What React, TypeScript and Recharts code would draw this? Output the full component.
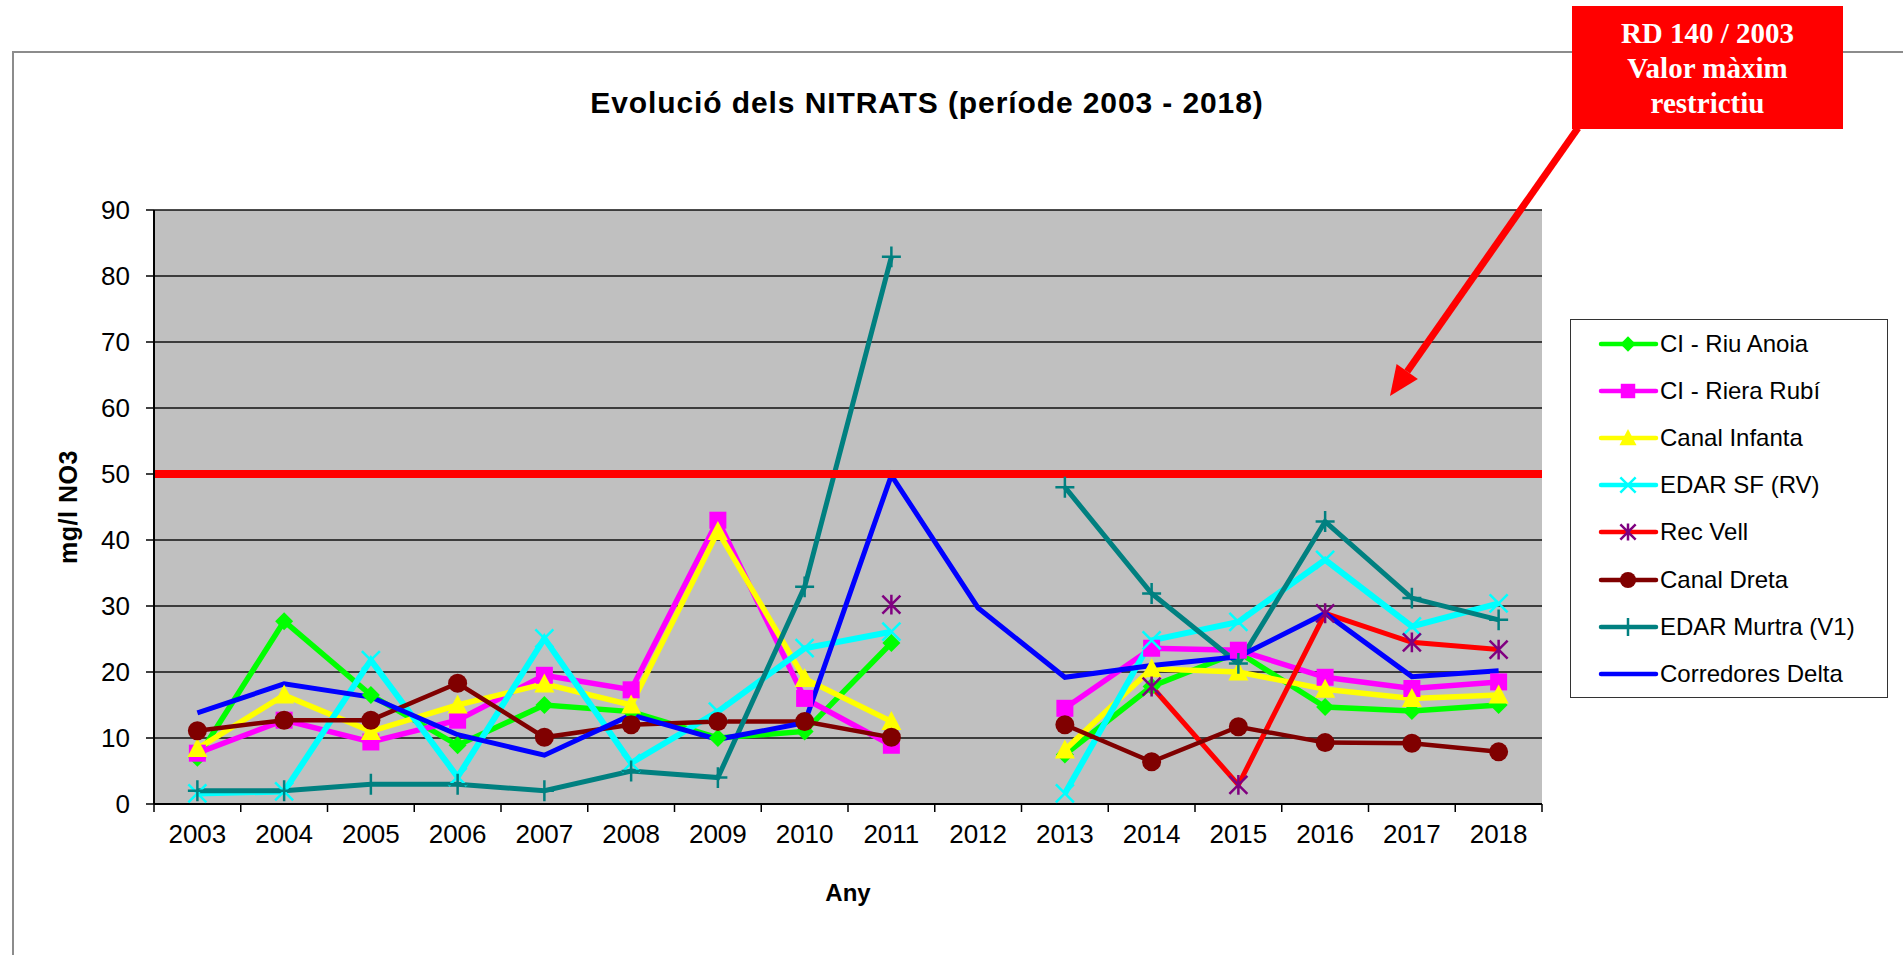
import React from "react";
import { LineChart, Line, XAxis, YAxis, CartesianGrid, ReferenceLine, Legend } from "recharts";

// categories
const years = ["2003", "2004", "2005", "2006", "2007", "2008", "2009", "2010", "2011", "2012", "2013", "2014", "2015", "2016", "2017", "2018"];

// series values (mg/l NO3), null = no sample that year
const riuAnoia = [7, 27.7, 16.5, 8.9, 15, 14, 10, 11, 24.4, null, 7.5, 17.8, 23, 14.7, 14.1, 15];
const rieraRubi = [7.7, 12.7, 9.4, 12.7, 19.5, 17.3, 43, 16, 8.9, null, 14.5, 23.6, 23.3, 19.2, 17.5, 18.5];
const canalInfanta = [8.4, 16.5, 11, 15, 18.2, 15, 41.3, 19, 12.5, null, 8.2, 20.5, 20, 17.4, 16, 16.5];
const edarSF = [1.6, 1.9, 21.8, 4.1, 25.1, 6.2, 14, 23.6, 26.1, null, 1.6, 24.8, 27.6, 37, 26.9, 30.4];
const recVell = [null, null, null, null, null, null, null, null, 30.2, null, null, 17.8, 2.9, 28.9, 24.5, 23.4];
const canalDreta = [11.1, 12.7, 12.7, 18.3, 10.1, 12, 12.5, 12.5, 10.1, null, 12, 6.4, 11.7, 9.3, 9.2, 7.9];
const edarMurtra = [2, 2, 3, 3, 2, 5, 4, 32.9, 82.9, null, 48, 31.9, 21.3, 42.8, 31.2, 27.9];
const corredoresDelta = [13.8, 18.2, 16.2, 10.5, 7.4, 13.5, 9.8, 12.3, 49.8, 29.7, 19.2, 21, 22.3, 28.9, 19.3, 20.2];

// y axis ticks and legal limit
const yTicks = [0, 10, 20, 30, 40, 50, 60, 70, 80, 90];
const limitValue = 50;
const calloutLines = ["RD 140 / 2003", "Valor màxim", "restrictiu"];

type Shape = "diamond" | "square" | "triangle" | "cross" | "star" | "circle" | "plus" | "none";

const series: { key: string; name: string; values: (number | null)[]; color: string; markColor: string; shape: Shape; width: number }[] = [
  { key: "riuAnoia", name: "CI - Riu Anoia", values: riuAnoia, color: "#00FF00", markColor: "#00FF00", shape: "diamond", width: 5.5 },
  { key: "rieraRubi", name: "CI - Riera Rubí", values: rieraRubi, color: "#FF00FF", markColor: "#FF00FF", shape: "square", width: 5.5 },
  { key: "canalInfanta", name: "Canal Infanta", values: canalInfanta, color: "#FFFF00", markColor: "#FFFF00", shape: "triangle", width: 5.5 },
  { key: "edarSF", name: "EDAR SF (RV)", values: edarSF, color: "#00FFFF", markColor: "#00FFFF", shape: "cross", width: 6 },
  { key: "recVell", name: "Rec Vell", values: recVell, color: "#FF0000", markColor: "#800080", shape: "star", width: 5 },
  { key: "canalDreta", name: "Canal Dreta", values: canalDreta, color: "#800000", markColor: "#800000", shape: "circle", width: 4.5 },
  { key: "edarMurtra", name: "EDAR Murtra (V1)", values: edarMurtra, color: "#008080", markColor: "#008080", shape: "plus", width: 5 },
  { key: "corredoresDelta", name: "Corredores Delta", values: corredoresDelta, color: "#0000FF", markColor: "#0000FF", shape: "none", width: 5 },
];

const data = years.map((year, i) => {
  const row: Record<string, any> = { year };
  series.forEach((s) => {
    row[s.key] = s.values[i];
  });
  return row;
});

// layout
const W = 1903;
const H = 955;
const PLOT_LEFT = 154;
const PLOT_RIGHT = 1542;
const PLOT_TOP = 210;
const PLOT_BOTTOM = 804;
const Y_AXIS_W = 100;
const X_AXIS_H = 100;
const BAND = (PLOT_RIGHT - PLOT_LEFT) / years.length;
const SANS = "'Liberation Sans', Arial, sans-serif";
const SERIF = "'Liberation Serif', 'Times New Roman', serif";

function Marker({ shape, cx, cy, color, k = 1 }: { shape: Shape; cx: number; cy: number; color: string; k?: number }) {
  switch (shape) {
    case "diamond": {
      const s = 9 * k;
      return <polygon points={`${cx},${cy - s} ${cx + s},${cy} ${cx},${cy + s} ${cx - s},${cy}`} fill={color} />;
    }
    case "square": {
      const s = 8.5 * k;
      return <rect x={cx - s} y={cy - s} width={2 * s} height={2 * s} fill={color} />;
    }
    case "triangle": {
      const s = 10 * k;
      return <polygon points={`${cx},${cy - s * 1.05} ${cx + s},${cy + s * 0.85} ${cx - s},${cy + s * 0.85}`} fill={color} />;
    }
    case "cross": {
      const s = 9 * k;
      return <path d={`M${cx - s},${cy - s}L${cx + s},${cy + s}M${cx - s},${cy + s}L${cx + s},${cy - s}`} stroke={color} strokeWidth={2.5} fill="none" />;
    }
    case "star": {
      const s = 9 * k;
      return (
        <path
          d={`M${cx - s},${cy - s}L${cx + s},${cy + s}M${cx - s},${cy + s}L${cx + s},${cy - s}M${cx},${cy - s * 1.1}L${cx},${cy + s * 1.1}`}
          stroke={color}
          strokeWidth={2.5}
          fill="none"
        />
      );
    }
    case "circle":
      return <circle cx={cx} cy={cy} r={9.5 * k} fill={color} />;
    case "plus": {
      const s = 9.5 * k;
      return <path d={`M${cx - s},${cy}L${cx + s},${cy}M${cx},${cy - s * 1.1}L${cx},${cy + s * 1.1}`} stroke={color} strokeWidth={2.5} fill="none" />;
    }
    default:
      return null;
  }
}

const XTick = (props: any) => {
  const { x, y, payload, index } = props;
  const axisY = y - 8;
  const half = BAND / 2;
  return (
    <g>
      <line x1={x - half} y1={axisY} x2={x - half} y2={axisY + 8} stroke="#000" strokeWidth={1.5} />
      {index === years.length - 1 && <line x1={x + half} y1={axisY} x2={x + half} y2={axisY + 8} stroke="#000" strokeWidth={1.5} />}
      <text x={x} y={y + 31} textAnchor="middle" fontSize={26} fontFamily={SANS} fill="#000">
        {payload.value}
      </text>
    </g>
  );
};

const YLabel = (props: any) => {
  const vb = props.viewBox || { x: PLOT_LEFT - Y_AXIS_W, y: PLOT_TOP, width: Y_AXIS_W, height: PLOT_BOTTOM - PLOT_TOP };
  const x = vb.x + 14;
  const y = vb.y + vb.height / 2;
  return (
    <text x={x} y={y} transform={`rotate(-90, ${x}, ${y})`} textAnchor="middle" dominantBaseline="central" fontSize={25} fontWeight="bold" fontFamily={SANS} letterSpacing={0.5} fill="#000">
      mg/l NO3
    </text>
  );
};

const XLabel = (props: any) => {
  const vb = props.viewBox || { x: PLOT_LEFT, y: PLOT_BOTTOM, width: PLOT_RIGHT - PLOT_LEFT, height: X_AXIS_H };
  return (
    <text x={vb.x + vb.width / 2} y={vb.y + 97} textAnchor="middle" fontSize={24} fontWeight="bold" fontFamily={SANS} fill="#000">
      Any
    </text>
  );
};

const LegendBox = () => (
  <div
    style={{
      width: 318,
      height: 379,
      boxSizing: "border-box",
      border: "1.5px solid #333",
      background: "#fff",
      fontFamily: SANS,
      fontSize: 24,
      color: "#000",
    }}
  >
    {series.map((s) => (
      <div key={s.key} style={{ height: 47.2, display: "flex", alignItems: "center" }}>
        <svg width={89} height={30} style={{ flex: "none" }}>
          <line x1={30} y1={15} x2={85} y2={15} stroke={s.color} strokeWidth={4.5} strokeLinecap="round" />
          <Marker shape={s.shape} cx={57} cy={15} color={s.markColor} k={0.85} />
        </svg>
        <span style={{ whiteSpace: "nowrap" }}>{s.name}</span>
      </div>
    ))}
  </div>
);

// callout arrow geometry
const arrowStart = { x: 1578, y: 128 };
const arrowTip = { x: 1390, y: 396 };

function Arrow() {
  const dx = arrowTip.x - arrowStart.x;
  const dy = arrowTip.y - arrowStart.y;
  const len = Math.hypot(dx, dy);
  const ux = dx / len;
  const uy = dy / len;
  const headLen = 30;
  const headHalf = 13;
  const bx = arrowTip.x - ux * headLen;
  const by = arrowTip.y - uy * headLen;
  const nx = -uy;
  const ny = ux;
  return (
    <svg width={W} height={H} style={{ position: "absolute", left: 0, top: 0, pointerEvents: "none" }}>
      <line x1={arrowStart.x} y1={arrowStart.y} x2={bx} y2={by} stroke="#FF0000" strokeWidth={7} />
      <polygon points={`${arrowTip.x},${arrowTip.y} ${bx + nx * headHalf},${by + ny * headHalf} ${bx - nx * headHalf},${by - ny * headHalf}`} fill="#FF0000" />
    </svg>
  );
}

export default function App() {
  return (
    <div style={{ position: "fixed", left: 0, top: 0, width: W, height: H, overflow: "hidden", background: "#fff" }}>
      <div
        style={{
          position: "absolute",
          left: 12,
          top: 51,
          width: W,
          height: H,
          borderTop: "2px solid #8c8c8c",
          borderLeft: "2px solid #8c8c8c",
        }}
      />
      <div
        style={{
          position: "absolute",
          left: 927,
          top: 88,
          transform: "translateX(-50%)",
          fontFamily: SANS,
          fontWeight: "bold",
          fontSize: 30,
          letterSpacing: 0.9,
          lineHeight: 1,
          whiteSpace: "nowrap",
          color: "#000",
        }}
      >
        Evolució dels NITRATS (període 2003 - 2018)
      </div>
      <div style={{ position: "absolute", left: 0, top: 0 }}>
        <LineChart
          width={W}
          height={H}
          data={data}
          margin={{ top: PLOT_TOP, left: PLOT_LEFT - Y_AXIS_W, right: W - PLOT_RIGHT, bottom: H - PLOT_BOTTOM - X_AXIS_H }}
        >
          <CartesianGrid horizontal vertical={false} stroke="#111" strokeWidth={1.3} fill="#C0C0C0" />
          <XAxis
            dataKey="year"
            interval={0}
            height={X_AXIS_H}
            padding={{ left: BAND / 2, right: BAND / 2 }}
            tickLine={false}
            tickSize={8}
            tickMargin={0}
            tick={<XTick />}
            axisLine={{ stroke: "#000", strokeWidth: 2 }}
            label={(p: any) => <XLabel {...p} />}
          />
          <XAxis
            xAxisId="top"
            dataKey="year"
            orientation="top"
            height={0}
            padding={{ left: BAND / 2, right: BAND / 2 }}
            tick={false}
            tickLine={false}
            axisLine={{ stroke: "#808080", strokeWidth: 2 }}
          />
          <YAxis
            width={Y_AXIS_W}
            domain={[0, 90]}
            ticks={yTicks}
            interval={0}
            tickSize={8}
            tickMargin={16}
            tickLine={{ stroke: "#000", strokeWidth: 1.5 }}
            axisLine={{ stroke: "#000", strokeWidth: 2 }}
            tick={{ fontSize: 26, fontFamily: SANS, fill: "#000" }}
            label={(p: any) => <YLabel {...p} />}
          />
          <YAxis
            yAxisId="right"
            orientation="right"
            width={0}
            domain={[0, 90]}
            tick={false}
            tickLine={false}
            axisLine={{ stroke: "#808080", strokeWidth: 2 }}
          />
          {series.map((s) => (
            <Line
              key={s.key}
              type="linear"
              dataKey={s.key}
              name={s.name}
              stroke={s.color}
              strokeWidth={s.width}
              connectNulls={false}
              isAnimationActive={false}
              activeDot={false}
              dot={(p: any) => {
                const v = p.payload ? p.payload[s.key] : p.value;
                if (v == null || p.cx == null || p.cy == null || Number.isNaN(p.cy)) return <g key={`${s.key}-${p.index}`} />;
                return (
                  <g key={`${s.key}-${p.index}`}>
                    <Marker shape={s.shape} cx={p.cx} cy={p.cy} color={s.markColor} />
                  </g>
                );
              }}
            />
          ))}
          <ReferenceLine y={limitValue} stroke="#FF0000" strokeWidth={8} />
          <Legend
            layout="vertical"
            align="center"
            verticalAlign="middle"
            wrapperStyle={{ left: 1570, top: 319, width: 318, height: 379 }}
            content={() => <LegendBox />}
          />
        </LineChart>
      </div>
      <div
        style={{
          position: "absolute",
          left: 1572,
          top: 6,
          width: 271,
          height: 123,
          boxSizing: "border-box",
          paddingTop: 9.5,
          background: "#FF0000",
          color: "#fff",
          fontFamily: SERIF,
          fontWeight: "bold",
          fontSize: 29,
          lineHeight: "35px",
          textAlign: "center",
        }}
      >
        {calloutLines.map((t) => (
          <div key={t}>{t}</div>
        ))}
      </div>
      <Arrow />
    </div>
  );
}
